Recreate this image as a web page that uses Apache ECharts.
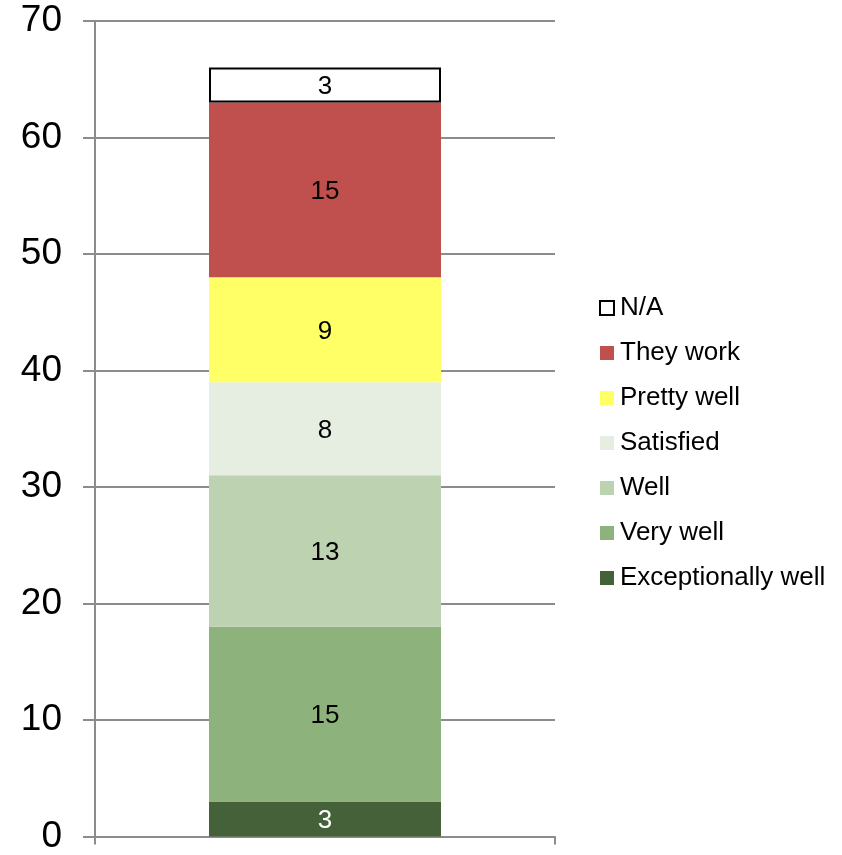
<!DOCTYPE html>
<html>
<head>
<meta charset="utf-8">
<script src="https://cdn.jsdelivr.net/npm/echarts@6/dist/echarts.min.js"></script>
<style>html,body{margin:0;padding:0;background:#fff}#c{width:842px;height:855px}</style>
</head>
<body>
<div id="c"></div>
<script>
const categories = [''];
const seriesNames = ['Exceptionally well', 'Very well', 'Well', 'Satisfied', 'Pretty well', 'They work', 'N/A'];
const seriesValues = [[3], [15], [13], [8], [9], [15], [3]];
const yTicks = [0, 10, 20, 30, 40, 50, 60, 70];

const colors = ['#44613A', '#8EB27B', '#BDD2B0', '#E6EEE1', '#FFFF66', '#C0504D', '#FFFFFF'];
const labelColors = ['#FFFFFF', '#000', '#000', '#000', '#000', '#000', '#000'];
const font = '"Liberation Sans", Arial, sans-serif';

const chart = echarts.init(document.getElementById('c'), null, {renderer: 'canvas'});
const series = seriesNames.map((name, i) => ({
  name: name,
  type: 'bar',
  stack: 'total',
  barWidth: 232,
  data: seriesValues[i],
  itemStyle: name === 'N/A'
    ? {color: colors[i], borderColor: '#000', borderWidth: 2}
    : {color: colors[i]},
  label: {
    show: true,
    position: 'inside',
    offset: [0, 2],
    color: labelColors[i],
    fontSize: 26,
    fontFamily: font
  },
  emphasis: {disabled: true}
}));

chart.setOption({
  animation: false,
  backgroundColor: '#fff',
  grid: {left: 95, right: 287, top: 21, bottom: 14, containLabel: false},
  legend: {
    orient: 'vertical',
    left: 594,
    top: 290,
    icon: 'rect',
    itemWidth: 14,
    itemHeight: 14,
    itemGap: 19,
    data: seriesNames.slice().reverse(),
    textStyle: {fontSize: 26, color: '#000', fontFamily: font, padding: [0, 0, 0, 1]},
    selectedMode: false
  },
  xAxis: {
    type: 'category',
    data: categories,
    axisLine: {lineStyle: {color: '#8C8C8C', width: 2}},
    axisTick: {show: true, length: 8, lineStyle: {color: '#8C8C8C', width: 2}},
    axisLabel: {show: false}
  },
  yAxis: {
    type: 'value',
    min: yTicks[0],
    max: yTicks[yTicks.length - 1],
    interval: 10,
    axisLine: {show: true, lineStyle: {color: '#8C8C8C', width: 2}},
    axisTick: {show: true, length: 12, lineStyle: {color: '#8C8C8C', width: 2}},
    axisLabel: {fontSize: 37, color: '#000', fontFamily: font, margin: 33},
    splitLine: {show: true, lineStyle: {color: '#8C8C8C', width: 2}}
  },
  series: series
});
</script>
</body>
</html>
